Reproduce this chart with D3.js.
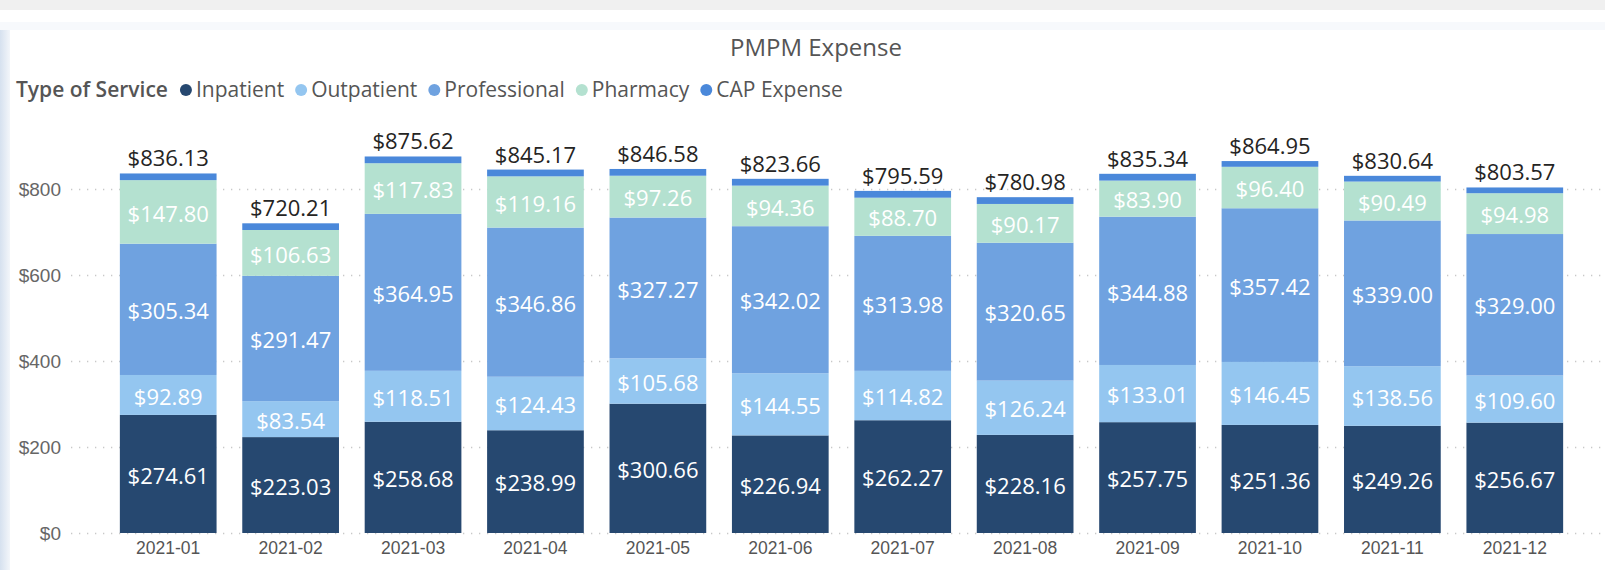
<!DOCTYPE html>
<head>
    <meta charset="utf-8">
    <title>PMPM Expense</title>
    <style>
        body { margin: 0; background: #fff; }
        svg { display: block; font-family: "Open Sans", "Noto Sans", sans-serif; }
        .grid line { stroke: #c8c8c8; stroke-width: 1.3px; stroke-dasharray: 1.3, 6.7; }
        .grid text { fill: #666; font-size: 19px; }
        .xaxis text { fill: #555; font-size: 17.5px; }
        .seg-label { fill: #fff; font-size: 22px; text-anchor: middle; }
        .total-label { fill: #252423; font-size: 22px; text-anchor: middle; }
    </style>
</head>
<body>
<svg width="1605" height="570"></svg>
<script src="https://d3js.org/d3.v7.min.js"></script>
<script>

var months = ["2021-01", "2021-02", "2021-03", "2021-04", "2021-05", "2021-06",
              "2021-07", "2021-08", "2021-09", "2021-10", "2021-11", "2021-12"];
var inpatient    = [274.61, 223.03, 258.68, 238.99, 300.66, 226.94, 262.27, 228.16, 257.75, 251.36, 249.26, 256.67];
var outpatient   = [92.89, 83.54, 118.51, 124.43, 105.68, 144.55, 114.82, 126.24, 133.01, 146.45, 138.56, 109.60];
var professional = [305.34, 291.47, 364.95, 346.86, 327.27, 342.02, 313.98, 320.65, 344.88, 357.42, 339.00, 329.00];
var pharmacy     = [147.80, 106.63, 117.83, 119.16, 97.26, 94.36, 88.70, 90.17, 83.90, 96.40, 90.49, 94.98];
var capExpense   = [15.49, 15.54, 15.65, 15.73, 15.71, 15.79, 15.82, 15.76, 15.80, 13.32, 13.33, 13.32];
var seriesNames  = ["Inpatient", "Outpatient", "Professional", "Pharmacy", "CAP Expense"];
var seriesColors = ["#264870", "#94c6f0", "#6fa2e0", "#b4e1d0", "#4a88da"];
var yTicks = [0, 200, 400, 600, 800];

// table for d3.stack
var rows = months.map(function(m, i) {
    return {
        month: m,
        "Inpatient": inpatient[i],
        "Outpatient": outpatient[i],
        "Professional": professional[i],
        "Pharmacy": pharmacy[i],
        "CAP Expense": capExpense[i]
    };
});

var svg = d3.select("svg"),
    W = +svg.attr("width"),
    H = +svg.attr("height");

// page chrome: grey strip, card shadow
svg.append("rect").attr("x", 0).attr("y", 0).attr("width", W).attr("height", 10).attr("fill", "#f0f0f0");
svg.append("rect").attr("x", 0).attr("y", 22).attr("width", W).attr("height", 8).attr("fill", "#f7f9fc");
var grad = svg.append("defs").append("linearGradient").attr("id", "edge");
grad.append("stop").attr("offset", "0%").attr("stop-color", "#d6e1ef");
grad.append("stop").attr("offset", "100%").attr("stop-color", "#f3f6fa");
svg.append("rect").attr("x", 0).attr("y", 30).attr("width", 10).attr("height", H - 30).attr("fill", "url(#edge)");

var x = d3.scaleBand()
    .domain(months)
    .range([107, 1576])
    .paddingInner(0.21)
    .paddingOuter(0.105);

var y = d3.scaleLinear()
    .domain([0, 800])
    .range([533, 189]);

var color = d3.scaleOrdinal().domain(seriesNames).range(seriesColors);

// gridlines + y labels
var gridLeft = 71;
svg.append("g")
    .attr("class", "grid")
    .attr("transform", "translate(" + gridLeft + ",0)")
    .call(d3.axisLeft(y)
        .tickValues(yTicks)
        .tickFormat(function(d) { return "$" + d; })
        .tickSize(-(W - gridLeft))
        .tickPadding(10))
    .call(function(g) { g.select(".domain").remove(); });

// x axis
svg.append("g")
    .attr("class", "xaxis")
    .attr("transform", "translate(0," + y(0) + ")")
    .call(d3.axisBottom(x).tickSize(0).tickPadding(8.5))
    .call(function(g) { g.select(".domain").remove(); });

var stacked = d3.stack().keys(seriesNames)(rows);

var layer = svg.append("g").selectAll("g")
    .data(stacked)
    .join("g")
    .attr("fill", function(d) { return color(d.key); });

layer.selectAll("rect")
    .data(function(d) { return d; })
    .join("rect")
    .attr("x", function(d) { return x(d.data.month); })
    .attr("y", function(d) { return y(d[1]); })
    .attr("height", function(d) { return y(d[0]) - y(d[1]); })
    .attr("width", x.bandwidth());

// segment labels (not for CAP)
var fmt = d3.format(",.2f");
svg.append("g").selectAll("g")
    .data(stacked.filter(function(s) { return s.key !== "CAP Expense"; }))
    .join("g")
    .selectAll("text")
    .data(function(d) { return d; })
    .join("text")
    .attr("class", "seg-label")
    .attr("x", function(d) { return x(d.data.month) + x.bandwidth() / 2; })
    .attr("y", function(d) { return (y(d[0]) + y(d[1])) / 2 + 2; })
    .attr("dy", "0.35em")
    .text(function(d) { return "$" + fmt(d[1] - d[0]); });

// totals
svg.append("g").selectAll("text")
    .data(rows)
    .join("text")
    .attr("class", "total-label")
    .attr("x", function(d) { return x(d.month) + x.bandwidth() / 2; })
    .attr("y", function(d) { return y(d3.sum(seriesNames, function(k) { return d[k]; })) - 7; })
    .text(function(d) { return "$" + fmt(d3.sum(seriesNames, function(k) { return d[k]; })); });

// title
svg.append("text")
    .attr("x", 816).attr("y", 56)
    .attr("text-anchor", "middle")
    .attr("fill", "#555")
    .style("font-size", "24px")
    .text("PMPM Expense");

// legend
var legend = svg.append("g").attr("transform", "translate(16,97)");
var lt = legend.append("text")
    .attr("fill", "#555")
    .style("font-size", "21px")
    .style("font-weight", 600)
    .text("Type of Service");
var cx = lt.node().getComputedTextLength() + 18;
seriesNames.forEach(function(name) {
    legend.append("circle")
        .attr("cx", cx).attr("cy", -7).attr("r", 6)
        .attr("fill", color(name));
    var t = legend.append("text")
        .attr("x", cx + 10)
        .attr("fill", "#555")
        .style("font-size", "21px")
        .text(name);
    cx += 10 + t.node().getComputedTextLength() + 17;
});

</script>
</body>
</html>
